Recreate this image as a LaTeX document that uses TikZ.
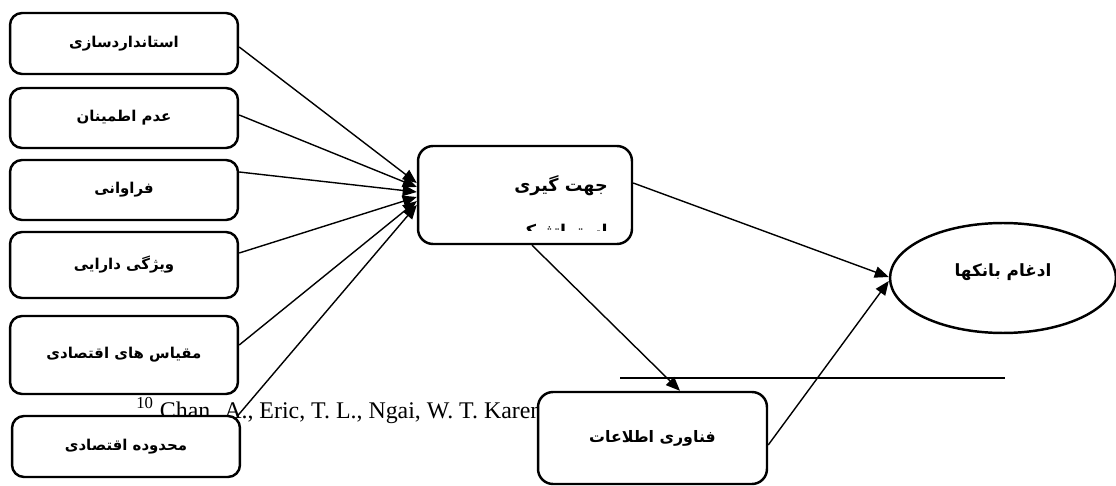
\documentclass[tikz,border=0pt]{standalone}
\usepackage{fontspec}
\usetikzlibrary{arrows.meta,shapes.geometric}
\TeXXeTstate=1
\newfontfamily\arabicfont[Script=Arabic]{DejaVu Sans}
\newfontfamily\refserif{Liberation Serif}
\tikzset{
  fabox/.style={draw, line width=1.4pt, rounded corners=0.24cm, fill=white, inner sep=0pt,
    minimum width=4.56cm, font=\arabicfont\bfseries\fontsize{8.5}{10}\selectfont},
  fatext/.style={inner sep=0pt, font=\arabicfont\bfseries\fontsize{8.5}{10}\selectfont},
  conn/.style={line width=0.8pt, -{Triangle[length=8pt,width=6.5pt]}},
}
\begin{document}
\begin{tikzpicture}[x=0.02cm,y=-0.02cm]
\useasboundingbox (0,0) rectangle (1116,486);
% footnote text (drawn first, covered by the bottom box)
\node[anchor=base west, inner sep=0pt, font=\refserif\fontsize{13.6}{16}\selectfont] (fn) at (136,418)
  {\textsuperscript{10} Chan. A., Eric, T. L., Ngai, W. T. Karen};
\draw[line width=0.9pt] (620,378) -- (1005,378);

% left boxes
\node[fabox, minimum height=1.22cm] (b1) at (124,43.5) {\beginR استانداردسازی\endR};
\node[fabox, minimum height=1.20cm] (b2) at (124,118) {\beginR عدم اطمینان\endR};
\node[fabox, minimum height=1.20cm] (b3) at (124,190) {\beginR فراوانی\endR};
\node[fabox, minimum height=1.32cm] (b4) at (124,265) {\beginR ویژگی دارایی\endR};
\node[fabox, minimum height=1.56cm] (b5) at (124,355) {\beginR مقیاس های اقتصادی\endR};
\node[fabox, minimum height=1.22cm] (b6) at (126,446.5) {\beginR محدوده اقتصادی\endR};

% middle box
\node[fabox, rounded corners=0.3cm, minimum width=4.28cm, minimum height=1.96cm] (mid) at (525,195) {};
\node[fatext, anchor=east, font=\arabicfont\bfseries\fontsize{10}{12}\selectfont] (midt1) at (608,186) {\beginR جهت گیری\endR};
\begin{scope}
  \clip (420,146) rectangle (630,231);
  \node[fatext, anchor=east, font=\arabicfont\bfseries\fontsize{10}{12}\selectfont] (midt2) at (608,233) {\beginR استراتژیک\endR};
\end{scope}

% bottom box
\node[fabox, rounded corners=0.3cm, minimum width=4.58cm, minimum height=1.84cm,
  font=\arabicfont\bfseries\fontsize{9}{11}\selectfont] (bot) at (652.5,438) {\beginR فناوری اطلاعات\endR};

% ellipse
\node[draw, ellipse, line width=1.4pt, fill=white, inner sep=0pt, minimum width=4.52cm, minimum height=2.2cm] (ell) at (1003,278) {};
\node[fatext, font=\arabicfont\bfseries\fontsize{9.6}{11}\selectfont] (ellt) at (1003,272) {\beginR ادغام بانکها\endR};

% connectors
\draw[conn] ([yshift=-0.07cm]b1.east) -- ([yshift=0.24cm]mid.west);
\draw[conn] ([yshift=0.06cm]b2.east) -- ([yshift=0.16cm]mid.west);
\draw[conn] ([yshift=0.36cm]b3.east) -- ([yshift=0.06cm]mid.west);
\draw[conn] ([yshift=0.24cm]b4.east) -- ([yshift=-0.04cm]mid.west);
\draw[conn] ([yshift=0.2cm]b5.east) -- ([yshift=-0.12cm]mid.west);
\draw[conn] ([xshift=-0.08cm,yshift=-0.03cm]b6.north east) -- ([yshift=-0.2cm]mid.west);
\draw[conn] ([yshift=0.24cm]mid.east) -- ([yshift=0.02cm]ell.west);
\draw[conn] ([xshift=0.14cm]mid.south) -- ([xshift=0.55cm]bot.north);
\draw[conn] ([yshift=-0.14cm]bot.east) -- ([yshift=-0.06cm]ell.west);
\end{tikzpicture}
\end{document}
